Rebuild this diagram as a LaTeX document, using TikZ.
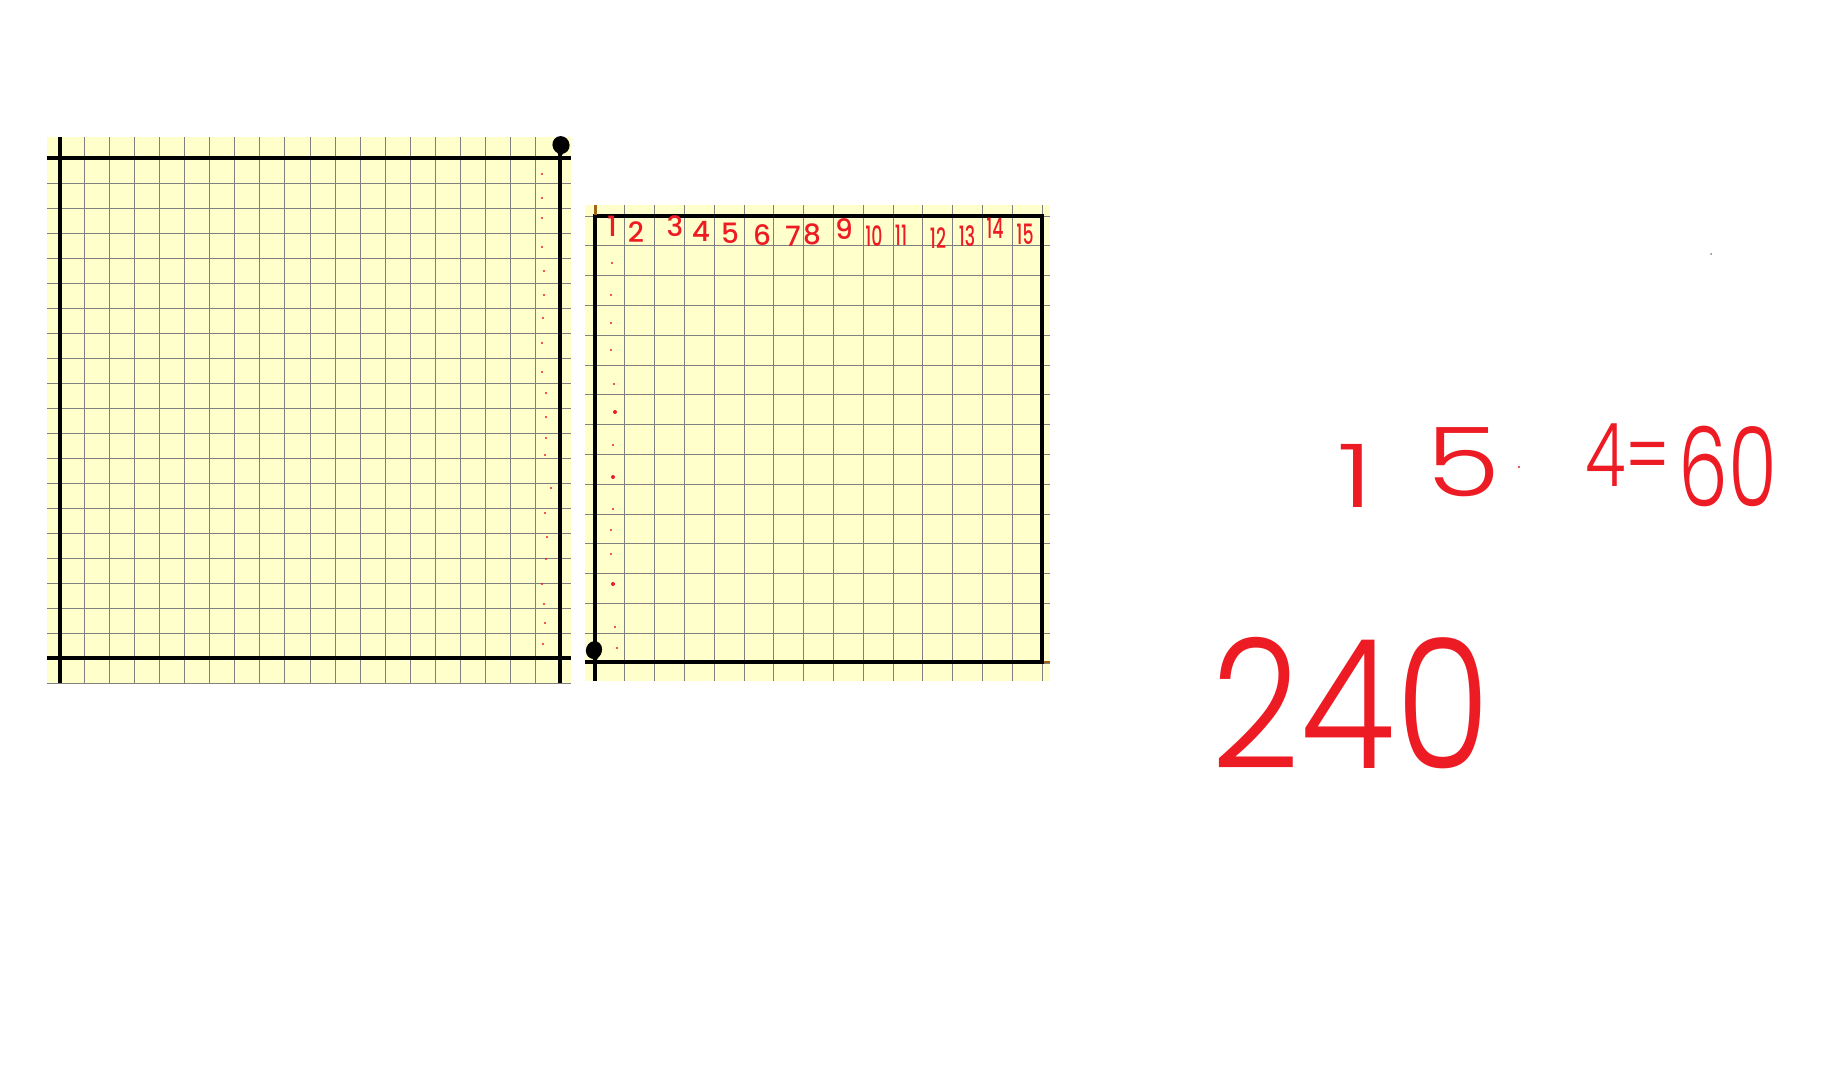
\documentclass[tikz,border=0pt]{standalone}
\usepackage{fontspec}
\newfontfamily\handbold{Poppins Medium}
\newfontfamily\handlight{Poppins Light}
\definecolor{paperyellow}{RGB}{255,255,204}
\definecolor{gridgray}{RGB}{128,128,128}
\definecolor{inkred}{RGB}{237,28,36}
\definecolor{inkbrown}{RGB}{160,100,20}
\begin{document}
\begin{tikzpicture}[x=1pt,y=-1pt,
  gridline/.style={draw=gridgray,line width=1pt},
  heavy/.style={draw=black,line width=4.3pt},
  brownline/.style={draw=inkbrown,line width=3pt},
  reddot/.style={fill=inkred},
  numlab/.style={inkred,inner sep=0pt,font=\handbold\fontsize{28}{28}\selectfont},
  numlabtwo/.style={numlab,xscale=0.62},
  bigink/.style={inkred,inner sep=0pt,font=\handlight\fontsize{88}{88}\selectfont}]
\useasboundingbox (0,0) rectangle (1824,1074);
\fill[white] (0,0) rectangle (1824,1074);

% ---------- left sheet ----------
\fill[paperyellow] (47,137) rectangle (571,683);
\foreach \i in {0,...,20} \draw[gridline] ({59.5+25.05*\i},137) -- ({59.5+25.05*\i},683);
\foreach \j in {0,...,21} \draw[gridline] (47,{158+25*\j}) -- (571,{158+25*\j});
\draw[heavy] (60,137) -- (60,683);
\draw[heavy] (560,137) -- (560,683);
\draw[heavy] (47,158) -- (571,158);
\draw[heavy] (47,658) -- (571,658);
\fill[black] (561,145) ellipse [x radius=8.5, y radius=9, rotate=25];
\fill[black] (555,148) -- (567,148) -- (560,158) -- cycle;
\foreach \p in {(542,174),(542,198),(542,218),(542,247),(544,271),(544,295),(543,318),(542,343),(542,372),(546,393),(546,417),(546,438),(545,455),(551,488),(545,513),(547,537),(546,559),(542,584),(544,604),(545,623),(543,644)}
  \fill[reddot] \p circle (1.1);

% ---------- right sheet ----------
\fill[paperyellow] (585,205) rectangle (1050,681);
\foreach \i in {0,...,15} \draw[gridline] ({595+29.8*\i},205) -- ({595+29.8*\i},681);
\foreach \j in {0,...,15} \draw[gridline] (585,{216+29.8*\j}) -- (1050,{216+29.8*\j});
\draw[heavy] (595,216) -- (595,681);
\draw[heavy] (593,216) -- (1042,216) -- (1042,664);
\draw[heavy] (585,662) -- (1042,662);
\draw[brownline] (595,205) -- (595,215);
\draw[inkbrown,line width=2pt] (1044,662) -- (1050,662);
\fill[black] (594,650) ellipse [x radius=8, y radius=9, rotate=-20];
\fill[black] (589,654) -- (601,654) -- (595,662) -- cycle;
\foreach \p in {(612,263),(611,295),(611,323),(611,350),(614,384),(613,445),(613,509),(611,530),(611,554),(615,627),(617,648)}
  \fill[reddot] \p circle (1.1);
\foreach \p in {(615,412),(613,477),(613,584)}
  \fill[reddot] \p circle (2);

% column numbers
\node[numlab] (n1) at (612,226) {1};
\node[numlab] (n2) at (636,232) {2};
\node[numlab] (n3) at (675,226) {3};
\node[numlab] (n4) at (701,231) {4};
\node[numlab] (n5) at (730,233) {5};
\node[numlab] (n6) at (762,235) {6};
\node[numlab] (n7) at (793,236) {7};
\node[numlab] (n8) at (812,234) {8};
\node[numlab] (n9) at (844,229) {9};
\node[numlabtwo] (n10) at (874,236) {10};
\node[numlabtwo] (n11) at (901,235) {11};
\node[numlabtwo] (n12) at (938,238) {12};
\node[numlabtwo] (n13) at (967,236) {13};
\node[numlabtwo] (n14) at (995,228) {14};
\node[numlabtwo] (n15) at (1025,234) {15};

% ---------- calculation ----------
\node[bigink,xscale=1.4] (eqone) at (1355,476) {1};
\node[bigink,font=\handlight\fontsize{96}{96}\selectfont,xscale=1.25] (eqfive) at (1464,462) {5};
\fill[inkred] (1519,467) circle (1.2);
\node[bigink,xscale=0.75] (eqfour) at (1628,455) {4=};
\node[bigink,font=\handlight\fontsize{110}{110}\selectfont,xscale=0.72] (eqsixty) at (1728,466) {60};
\node[bigink,font=\handlight\fontsize{180}{180}\selectfont,xscale=0.86] (total) at (1351,703) {240};
\fill[gridgray] (1711,254) circle (1);
\end{tikzpicture}
\end{document}
